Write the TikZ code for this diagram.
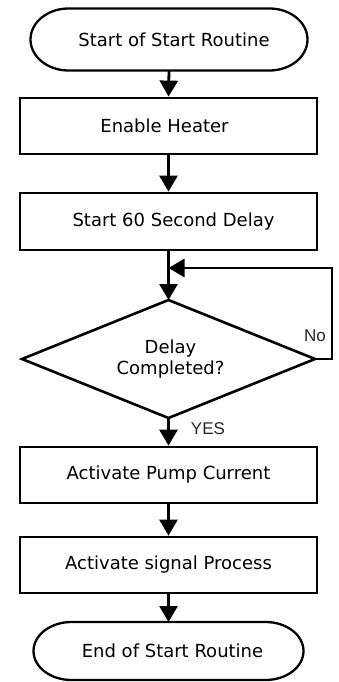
\documentclass[tikz,border=0pt]{standalone}
\usepackage{fontspec}
\setmainfont{DejaVu Sans}
\newfontfamily\branchfont{Liberation Sans}
\usetikzlibrary{arrows.meta}
\begin{document}
\begin{tikzpicture}[x=1pt,y=1pt,
  txt/.style={font=\fontsize{18}{21}\selectfont},
  stepbox/.style={txt, draw, line width=2.8pt, minimum width=297pt, minimum height=56pt, inner sep=0pt},
  termbox/.style={txt, minimum height=62pt, inner sep=0pt, outer sep=0pt},
  termline/.style={line width=2.3pt},
  decbox/.style={txt, minimum width=293pt, minimum height=118pt, inner sep=0pt, outer sep=0pt, align=center},
  decline/.style={line width=2.6pt, line join=miter},
  flow/.style={line width=2.8pt, -{Triangle[width=18pt,length=16pt]}},
  branch/.style={font=\branchfont\fontsize{17}{19}\selectfont, text=black!85},
]
\useasboundingbox (0,0) rectangle (339,-682);

% nodes (leading space nudges a label off the box centre)
\node[termbox, minimum width=277pt] (start) at (169,-39.5) {\hspace*{10pt}Start of Start Routine};
\node[stepbox] (heat) at (168.5,-126) {Enable Heater\hspace*{8pt}};
\node[stepbox, minimum height=57pt] (wait) at (168.5,-221.5) {\hspace*{10pt}Start 60 Second Delay};
\node[decbox] (dec) at (168.5,-359) {\hspace*{4pt}Delay\\\hspace*{4pt}Completed?};
\node[stepbox] (pump) at (168.5,-475) {Activate Pump Current};
\node[stepbox] (sig) at (168.5,-565) {Activate signal Process};
\node[termbox, minimum width=270pt, minimum height=58pt] (stop) at (168.5,-651) {\hspace*{8pt}End of Start Routine};

% terminal outlines with elliptical ends
\draw[termline] ([xshift=38pt]start.north west) -- ([xshift=-38pt]start.north east)
  arc[start angle=90, end angle=-90, x radius=38pt, y radius=31pt]
  -- ([xshift=38pt]start.south west)
  arc[start angle=270, end angle=90, x radius=38pt, y radius=31pt] -- cycle;
\draw[termline] ([xshift=38pt]stop.north west) -- ([xshift=-38pt]stop.north east)
  arc[start angle=90, end angle=-90, x radius=38pt, y radius=29pt]
  -- ([xshift=38pt]stop.south west)
  arc[start angle=270, end angle=90, x radius=38pt, y radius=29pt] -- cycle;

% decision outline
\draw[decline] (dec.north) -- (dec.east) -- (dec.south) -- (dec.west) -- cycle;

% connectors
\coordinate (join) at (168.5,-268);
\draw[flow] (start.south) -- (heat.north);
\draw[flow] (heat.south) -- (wait.north);
\draw[flow] (wait.south) -- (dec.north);
\draw[flow, line join=miter] (dec.east) -- ++(17,0) |- (join);
\draw[flow] (dec.south) -- (pump.north);
\draw[flow] (pump.south) -- (sig.north);
\draw[flow] (sig.south) -- (stop.north);

% branch labels
\node[branch] (no) at (315,-336) {No};
\node[branch] (yes) at (208,-429) {YES};
\end{tikzpicture}
\end{document}
